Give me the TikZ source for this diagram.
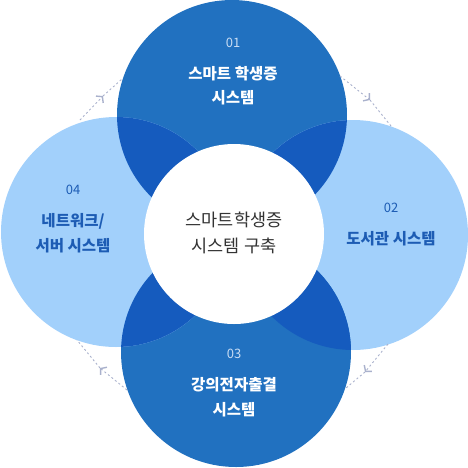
\documentclass[tikz,border=0pt]{standalone}
\usepackage{fontspec}
\setmainfont{Noto Sans CJK KR}
\usetikzlibrary{arrows.meta}

\definecolor{midblue}{HTML}{2171C0}
\definecolor{lightblue}{HTML}{A2D0FB}
\definecolor{deepblue}{HTML}{155BBE}
\definecolor{numlight}{HTML}{C9DDF4}
\definecolor{textblue}{HTML}{1D5CB4}
\definecolor{flowgray}{HTML}{A9B1CC}

\tikzset{
  flow/.style={draw=flowgray, line width=0.9pt, dash pattern=on 2pt off 2.5pt},
  tip/.style={-{Straight Barb[length=4pt,width=10pt,line width=1.4pt]}}
}

\begin{document}
\begin{tikzpicture}[x=1pt,y=-1pt]

        \useasboundingbox (0,0) rectangle (468,467);

        \begin{scope}[every node/.style={circle,inner sep=0pt,outer sep=0pt,minimum size=230pt}]
          \node[fill=midblue]   (c1) at (232,115) {};
          \node[fill=lightblue] (c2) at (353,235) {};
          \node[fill=midblue]   (c3) at (236,352) {};
          \node[fill=lightblue] (c4) at (116,232) {};
        \end{scope}

        % overlaps
        \foreach \a/\b in {c1/c2,c1/c4,c3/c2,c3/c4} {
          \begin{scope}
            \clip (\a.center) circle (115);
            \fill[deepblue] (\b.center) circle (115);
          \end{scope}
        }

        \node[circle,fill=white,inner sep=0pt,minimum size=180pt] (mid) at (234,234) {};

        \begin{scope}[every node/.style={align=center}]
          \node[text=numlight,font=\fontsize{13}{15}\selectfont]  (n1) at (233,43)  {01};
          \node[text=textblue,font=\fontsize{13}{15}\selectfont]  (n2) at (391,208) {02};
          \node[text=numlight,font=\fontsize{13}{15}\selectfont]  (n3) at (234,354) {03};
          \node[text=textblue,font=\fontsize{13}{15}\selectfont]  (n4) at (73,190)  {04};

          \node[text=white,font=\fontsize{15.5}{24.5}\selectfont\bfseries]    (t1) at (233,85.5)  {스마트 학생증\\시스템};
          \node[text=textblue,font=\fontsize{15.5}{24.5}\selectfont\bfseries] (t2) at (391,239)   {도서관 시스템};
          \node[text=white,font=\fontsize{15.5}{24.5}\selectfont\bfseries]    (t3) at (234,397)   {강의전자출결\\시스템};
          \node[text=textblue,font=\fontsize{15.5}{24.5}\selectfont\bfseries] (t4) at (73,233)    {네트워크/\\서버 시스템};

          \node[text=black!80,font=\fontsize{17.5}{26}\selectfont] (title) at (234,233) {스마트학생증\\시스템 구축};
        \end{scope}

        \coordinate (a1) at (80,120);  \coordinate (m1) at (103,96);  \coordinate (b1) at (122,79);
        \coordinate (a2) at (340,76);  \coordinate (m2) at (370,100); \coordinate (b2) at (391,126);
        \coordinate (a3) at (388,344); \coordinate (m3) at (365,372); \coordinate (b3) at (346,388);
        \coordinate (a4) at (127,390); \coordinate (m4) at (100,368); \coordinate (b4) at (77,340);

        \foreach \i in {1,2,3,4} {
          \draw[flow,tip] (a\i) -- (m\i);
          \draw[flow] (m\i) -- (b\i);
        }

      \end{tikzpicture}
\end{document}
